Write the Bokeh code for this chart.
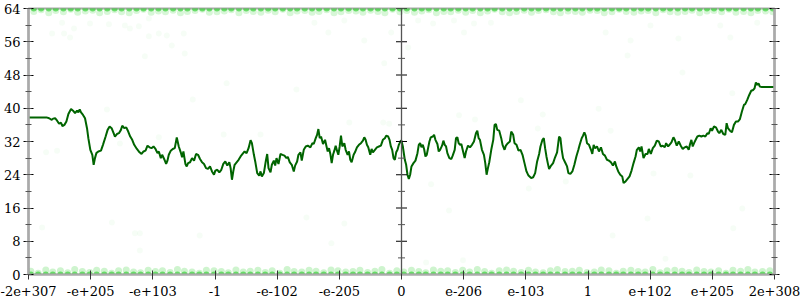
from bokeh.plotting import figure
from bokeh.models import (Range1d, LinearAxis, FixedTicker, SingleIntervalTicker,
                          Span, Grid, CustomJSTickFormatter)
from bokeh.embed import file_html
from bokeh.resources import INLINE

# ---------------- data ----------------
# x is a bin index over the ordered bit patterns of doubles (negative half | positive half)
x_tick_pos = [-1122, -935, -748, -561, -374, -187, 0, 187, 374, 561, 748, 935, 1122]
x_tick_labels = ["-2e+307", "-e+205", "-e+103", "-1", "-e-102", "-e-205", "0",
                 "e-206", "e-103", "1", "e+102", "e+205", "2e+308"]

avg_x = [-1122, -1068, -1060, -1052, -1048, -1042, -1036, -1030, -1024, -1020,
         -1014, -1008, -1002, -994, -988, -982, -976, -972, -968, -964,
         -958, -952, -946, -942, -936, -930, -926, -922, -918, -912,
         -904, -898, -890, -884, -878, -872, -866, -862, -856, -850,
         -844, -840, -834, -828, -822, -816, -810, -804, -796, -788,
         -782, -776, -770, -764, -758, -752, -746, -740, -734, -730,
         -724, -720, -714, -708, -704, -700, -694, -688, -682, -676,
         -670, -664, -660, -656, -650, -646, -642, -636, -630, -624,
         -618, -612, -606, -600, -594, -588, -582, -576, -570, -564,
         -560, -554, -548, -542, -536, -530, -524, -518, -514, -510,
         -506, -502, -496, -490, -484, -478, -472, -466, -460, -454,
         -450, -444, -440, -434, -428, -424, -420, -414, -408, -404,
         -400, -394, -390, -384, -380, -376, -370, -364, -358, -352,
         -346, -342, -336, -330, -324, -320, -314, -310, -304, -300,
         -294, -288, -282, -274, -268, -264, -258, -254, -250, -246,
         -242, -236, -230, -226, -222, -218, -214, -210, -206, -202,
         -198, -194, -190, -186, -182, -178, -172, -168, -162, -158,
         -154, -150, -144, -140, -134, -128, -122, -116, -112, -108,
         -104, -100, -94, -90, -86, -80, -74, -68, -62, -56,
         -50, -46, -40, -36, -32, -28, -24, -20, -16, -12,
         -8, -2,
         0, 4, 10, 14, 18, 22, 26, 30, 36, 42,
         48, 52, 56, 60, 64, 68, 72, 76, 80, 84,
         88, 94, 98, 102, 108, 112, 116, 122, 126, 130,
         134, 138, 144, 150, 154, 160, 164, 168, 172, 176,
         180, 184, 190, 194, 200, 206, 212, 218, 224, 228,
         232, 236, 242, 248, 252, 256, 260, 264, 270, 276,
         280, 284, 288, 294, 300, 304, 310, 314, 320, 326,
         330, 336, 340, 346, 352, 358, 364, 370, 376, 382,
         390, 396, 402, 408, 414, 418, 424, 428, 432, 436,
         440, 444, 450, 456, 462, 468, 474, 478, 482, 486,
         492, 498, 502, 508, 514, 520, 526, 532, 536, 542,
         546, 550, 554, 558, 564, 570, 574, 578, 582, 588,
         594, 600, 606, 612, 618, 624, 630, 636, 642, 646,
         652, 658, 664, 668, 674, 680, 686, 692, 698, 704,
         708, 714, 718, 722, 728, 734, 740, 744, 750, 756,
         762, 768, 774, 780, 786, 792, 796, 802, 806, 812,
         818, 822, 828, 834, 840, 846, 852, 858, 864, 868,
         872, 876, 880, 886, 890, 896, 902, 908, 914, 920,
         924, 930, 934, 940, 946, 952, 956, 962, 968, 974,
         978, 982, 988, 994, 1000, 1006, 1012, 1018, 1024, 1030,
         1034, 1040, 1046, 1052, 1058, 1062, 1066, 1070, 1074, 1078,
         1084, 1122]

avg_y = [37.8, 37.8, 37.6, 37.2, 37.5, 37.6, 37.0, 36.3, 36.5, 35.7,
         36.0, 36.8, 38.6, 39.8, 39.4, 38.8, 39.4, 39.0, 39.7, 39.0,
         38.4, 37.6, 35.2, 32.8, 30.0, 28.8, 26.4, 28.0, 29.2, 29.6,
         29.8, 31.2, 33.2, 34.8, 35.6, 35.2, 34.0, 33.2, 33.8, 34.0,
         34.8, 35.8, 35.2, 35.4, 34.4, 33.2, 32.4, 31.2, 30.2, 29.4,
         29.0, 29.6, 29.8, 31.0, 30.6, 30.4, 30.8, 30.2, 29.2, 29.6,
         28.0, 28.8, 27.8, 26.6, 27.4, 28.8, 29.8, 30.2, 30.4, 33.0,
         30.8, 29.4, 28.2, 29.6, 26.6, 26.0, 26.8, 27.0, 28.0, 27.4,
         29.0, 28.8, 27.8, 27.0, 26.6, 25.6, 25.4, 26.0, 24.8, 24.0,
         25.0, 25.2, 24.6, 25.2, 26.6, 27.2, 26.2, 27.0, 25.6, 22.8,
         24.8, 26.4, 27.0, 27.6, 28.4, 29.0, 29.6, 29.2, 30.4, 32.3,
         31.6, 28.8, 27.2, 24.4, 23.8, 24.8, 23.6, 24.4, 27.4, 29.0,
         25.6, 24.6, 26.4, 27.4, 26.2, 28.0, 26.6, 29.0, 28.8, 28.6,
         28.0, 28.3, 27.0, 26.4, 24.8, 26.2, 27.2, 28.8, 29.4, 27.4,
         30.0, 30.8, 31.0, 30.6, 31.6, 31.4, 32.8, 33.6, 35.0, 32.8,
         33.2, 31.4, 32.4, 31.0, 29.6, 30.4, 29.0, 26.8, 28.8, 29.8,
         31.0, 29.8, 28.8, 30.8, 33.4, 30.8, 31.6, 30.0, 28.8, 29.6,
         27.6, 27.0, 28.8, 29.4, 30.6, 31.2, 31.6, 32.2, 33.0, 32.4,
         31.2, 30.6, 28.8, 30.2, 29.4, 30.0, 30.6, 30.8, 31.0, 32.4,
         32.8, 33.4, 33.2, 32.4, 30.8, 30.0, 28.0, 27.6, 29.4, 30.0,
         31.2, 32.2,
         32.2, 30.8, 27.6, 26.4, 24.0, 23.0, 24.0, 26.0, 26.8, 27.4,
         29.2, 31.2, 31.6, 30.6, 31.2, 30.2, 28.4, 28.8, 30.4, 32.0,
         33.0, 33.2, 33.6, 32.4, 31.4, 29.6, 30.0, 31.0, 32.2, 31.2,
         30.8, 29.2, 28.0, 27.8, 28.6, 30.0, 32.8, 33.0, 31.6, 31.2,
         31.4, 30.0, 28.0, 29.6, 31.0, 30.6, 31.2, 32.0, 34.0, 34.6,
         32.8, 32.4, 30.0, 28.8, 26.8, 24.0, 25.6, 27.0, 30.0, 32.4,
         36.0, 36.2, 34.8, 34.6, 32.8, 31.2, 30.0, 31.0, 31.6, 32.0,
         34.4, 33.6, 31.6, 31.2, 29.8, 30.0, 28.8, 26.8, 24.8, 23.8,
         23.2, 23.4, 24.4, 27.2, 29.0, 30.8, 32.4, 32.8, 30.4, 28.4,
         26.8, 25.4, 26.2, 26.8, 28.2, 29.4, 33.2, 32.8, 30.0, 28.0,
         27.0, 26.0, 24.4, 24.2, 24.8, 26.4, 28.4, 30.0, 31.2, 32.8,
         33.4, 34.2, 33.4, 31.6, 31.2, 30.0, 29.0, 31.2, 30.4, 30.8,
         29.6, 30.6, 29.0, 28.6, 27.6, 27.4, 27.0, 26.2, 27.2, 26.0,
         24.8, 24.0, 23.6, 22.0, 22.4, 23.0, 23.6, 25.0, 26.8, 28.4,
         30.0, 30.6, 29.6, 30.8, 28.0, 29.0, 29.0, 30.2, 29.0, 30.4,
         31.0, 32.2, 32.0, 30.8, 31.0, 30.6, 31.6, 30.8, 31.2, 31.8,
         33.0, 32.4, 31.0, 32.0, 31.0, 30.2, 30.6, 30.8, 30.0, 31.4,
         32.4, 30.8, 31.6, 32.6, 33.2, 33.4, 33.2, 33.4, 33.2, 34.0,
         33.8, 35.2, 34.6, 35.6, 35.4, 34.4, 34.0, 34.8, 33.8, 33.6,
         36.4, 35.2, 34.6, 34.2, 36.0, 36.8, 36.8, 37.4, 39.2, 40.8,
         41.0, 42.0, 43.2, 44.2, 44.4, 44.8, 46.2, 45.6, 46.0, 45.2,
         45.1, 45.1]

# dense clouds of samples right at the bottom (0..1) and the top (63..64)
low_band_x = [-1115, -1093, -1070, -1049, -1026, -1004, -983, -960, -938, -917,
              -894, -872, -851, -828, -806, -785, -762, -740, -719, -696,
              -674, -653, -630, -608, -587, -564, -542, -521, -498, -476,
              -455, -432, -410, -389, -366, -344, -323, -300, -278, -257,
              -234, -212, -191, -168, -146, -125, -102, -80, -59, -36,
              -14, 7, 30, 52, 73, 96, 118, 139, 162, 184,
              205, 228, 250, 271, 294, 316, 337, 360, 382, 403,
              426, 448, 469, 492, 514, 535, 558, 580, 601, 624,
              646, 667, 690, 712, 733, 756, 778, 799, 822, 844,
              865, 888, 910, 931, 954, 976, 997, 1020, 1042, 1063,
              1086, 1108]
low_band_y = [0.8, 0.3, 1.1, 0.6, 0.9, 0.4, 1.2, 0.7, 0.5, 1.0,
              0.8, 0.3, 0.9, 1.1, 0.6, 0.4, 1.0, 0.7, 0.9, 0.5,
              1.2, 0.8, 0.6, 0.3, 1.0, 0.9, 0.7, 0.4, 1.1, 0.6,
              0.8, 1.0, 0.5, 0.9, 0.3, 1.2, 0.7, 0.6, 1.0, 0.8,
              0.4, 1.1, 0.9, 0.6, 0.7, 1.0, 0.5, 0.8, 1.2, 0.3,
              0.9, 0.6, 1.0, 0.7, 0.4, 1.1, 0.8, 0.9, 0.5, 1.0,
              0.6, 1.2, 0.7, 0.3, 0.9, 1.1, 0.8, 0.5, 1.0, 0.6,
              0.4, 0.9, 1.2, 0.7, 0.8, 1.0, 0.5, 0.6, 1.1, 0.9,
              0.3, 0.8, 1.0, 0.7, 0.6, 1.2, 0.4, 0.9, 1.0, 0.8,
              0.5, 1.1, 0.7, 0.6, 0.9, 0.3, 1.0, 0.8, 1.2, 0.6,
              0.7, 0.9]
high_band_x = [-1106, -1084, -1061, -1040, -1017, -995, -974, -951, -929, -908,
               -885, -863, -842, -819, -797, -776, -753, -731, -710, -687,
               -665, -644, -621, -599, -578, -555, -533, -512, -489, -467,
               -446, -423, -401, -380, -357, -335, -314, -291, -269, -248,
               -225, -203, -182, -159, -137, -116, -93, -71, -50, -27,
               -5, 16, 39, 61, 82, 105, 127, 148, 171, 193,
               214, 237, 259, 280, 303, 325, 346, 369, 391, 412,
               435, 457, 478, 501, 523, 544, 567, 589, 610, 633,
               655, 676, 699, 721, 742, 765, 787, 808, 831, 853,
               874, 897, 919, 940, 963, 985, 1006, 1029, 1051, 1072,
               1095, 1117]
high_band_y = [63.3, 63.7, 63.0, 63.5, 63.2, 63.8, 63.1, 63.4, 63.6, 63.0,
               63.3, 63.7, 63.2, 63.0, 63.5, 63.8, 63.1, 63.4, 63.2, 63.6,
               63.0, 63.3, 63.5, 63.8, 63.1, 63.2, 63.4, 63.7, 63.0, 63.5,
               63.3, 63.1, 63.6, 63.2, 63.8, 63.0, 63.4, 63.5, 63.1, 63.3,
               63.7, 63.0, 63.2, 63.5, 63.4, 63.1, 63.6, 63.3, 63.0, 63.8,
               63.2, 63.5, 63.1, 63.4, 63.7, 63.0, 63.3, 63.2, 63.6, 63.1,
               63.5, 63.0, 63.4, 63.8, 63.2, 63.0, 63.3, 63.6, 63.1, 63.5,
               63.7, 63.2, 63.0, 63.4, 63.3, 63.1, 63.6, 63.5, 63.0, 63.2,
               63.8, 63.3, 63.1, 63.4, 63.5, 63.0, 63.7, 63.2, 63.1, 63.3,
               63.6, 63.0, 63.4, 63.5, 63.2, 63.8, 63.1, 63.3, 63.0, 63.5,
               63.4, 63.2]

# scattered individual samples away from the bands
sparse_x = [-1021, -937, -880, -1051, -1015, -985, -997, -832, -817, -790,
            -760, -772, -760, -730, -706, -691, -655, -652, -262, -220,
            -172, -112, -52, -31, 20, 50, 95, 158, 188, 218,
            269, 680, 845, 749, 833, 959, 989, 1070, 689, 614,
            -526, -316, -628, -886, -847, -1069, -1036, -730, -535, -424,
            -157, -55, -37, 359, 593, 425, 173, 221, 410, 629,
            995, 869, 758, 89, 383, 494,
            -1081, -871, -802, -787, -787, -607, -286, -211, -172, 74,
            143, 185, 740, 635, 794, 998, 1025]
sparse_y = [60.6, 60.4, 60.2, 58.0, 58.0, 59.2, 57.0, 59.9, 59.2, 59.7,
            61.6, 52.5, 57.3, 58.0, 57.5, 55.1, 58.0, 53.2, 60.6, 58.2,
            61.1, 56.3, 50.8, 58.2, 54.6, 61.1, 60.4, 61.1, 58.2, 60.4,
            60.6, 52.7, 48.6, 59.9, 56.8, 59.9, 57.0, 60.6, 56.3, 58.2,
            46.0, 44.5, 42.1, 39.7, 31.5, 29.4, 29.8, 33.0, 33.7, 33.7,
            36.6, 36.6, 36.3, 41.9, 39.9, 38.5, 38.3, 37.3, 35.1, 34.6,
            43.6, 23.8, 24.3, 21.7, 20.7, 22.4,
            11.3, 12.5, 9.9, 9.9, 5.8, 9.4, 13.7, 7.5, 12.3, 2.9,
            15.4, 3.4, 13.5, 9.4, 3.8, 11.1, 15.9]

y_major_ticks = [0, 8, 16, 24, 32, 40, 48, 56, 64]
y_minor_ticks = [4, 12, 20, 28, 36, 44, 52, 60]

# ---------------- figure ----------------
p = figure(width=800, height=300, output_backend="svg", toolbar_location=None,
           x_range=Range1d(-1122, 1122), y_range=Range1d(0, 64),
           x_axis_location=None, y_axis_location=None,
           min_border_left=28, min_border_right=26, min_border_top=8, min_border_bottom=26,
           background_fill_color="white", border_fill_color="white")
p.center = [c for c in p.center if not isinstance(c, Grid)]
p.outline_line_color = "#aaaaaa"
p.outline_line_width = 2

font = "DejaVu Serif"

def y_axis(labels):
    ax = LinearAxis(ticker=SingleIntervalTicker(interval=8, num_minor_ticks=2),
                    axis_line_color="#aaaaaa", axis_line_width=2.5,
                    major_tick_in=5, major_tick_out=5, major_tick_line_color="black",
                    minor_tick_in=3, minor_tick_out=3, minor_tick_line_color="#555555",
                    major_label_standoff=3, major_label_text_font=font,
                    major_label_text_font_size="13px", major_label_text_color="black")
    if not labels:
        ax.formatter = CustomJSTickFormatter(code="return ''")
    return ax

p.add_layout(y_axis(True), "left")
p.add_layout(y_axis(False), "right")

xb = LinearAxis(ticker=FixedTicker(ticks=x_tick_pos),
                major_label_overrides=dict(zip(x_tick_pos, x_tick_labels)),
                axis_line_color="#aaaaaa", axis_line_width=2,
                major_tick_in=4, major_tick_out=5, major_tick_line_color="#333333",
                minor_tick_line_color=None, major_label_standoff=6,
                major_label_text_font=font, major_label_text_font_size="13px",
                major_label_text_color="black")
p.add_layout(xb, "below")

# sample clouds
p.scatter(sparse_x, sparse_y, size=6, fill_color="#00cc00", line_color=None, fill_alpha=0.035)
p.scatter(low_band_x, low_band_y, size=7, fill_color="#22cc22", line_color=None, fill_alpha=0.22)
p.scatter(high_band_x, high_band_y, size=7, fill_color="#22cc22", line_color=None, fill_alpha=0.18)
p.scatter(low_band_x, [0.0] * len(low_band_x), size=6, fill_color="#22cc22",
          line_color=None, fill_alpha=0.6)
p.scatter(high_band_x, [64.0] * len(high_band_x), size=6, fill_color="#22cc22",
          line_color=None, fill_alpha=0.6)

# running average
p.line(avg_x, avg_y, line_color="#006400", line_width=2)

# central axis (x = 0) with its ticks
p.add_layout(Span(location=0, dimension="height", line_color="#555555", line_width=1.3))
p.scatter([0] * len(y_major_ticks), y_major_ticks, marker="dash", size=11,
          line_color="black", line_width=1)
p.scatter([0] * len(y_minor_ticks), y_minor_ticks, marker="dash", size=7,
          line_color="#555555", line_width=1)

open("out.html", "w").write(file_html(p, INLINE))
